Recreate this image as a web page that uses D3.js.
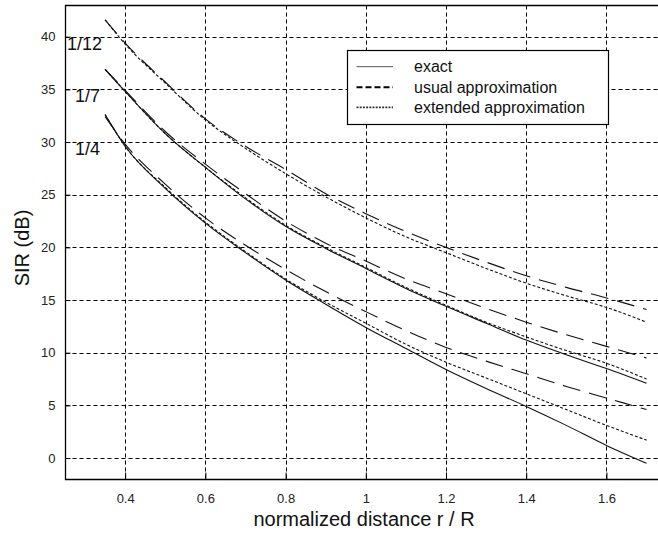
<!DOCTYPE html>
<html>
<head>
<meta charset="utf-8">
<script src="https://cdn.jsdelivr.net/npm/d3@7"></script>
<style>
  html, body { margin: 0; padding: 0; background: #fff; }
  svg { display: block; font-family: "Liberation Sans", Arial, sans-serif; }
</style>
</head>
<body>
<svg id="chart" width="658" height="534"></svg>
<script>
// ---- data ----
const distances = [0.35, 0.4, 0.5, 0.6, 0.7, 0.8, 0.9, 1.0, 1.1, 1.2, 1.3, 1.4, 1.5, 1.6, 1.7];

const exact_1_4    = [32.6, 29.6, 25.6, 22.3, 19.5, 16.9, 14.6, 12.4, 10.4, 8.4, 6.6, 4.9, 3.1, 1.2, -0.5];
const extended_1_4 = [32.6, 29.6, 25.7, 22.4, 19.6, 17.0, 14.8, 12.8, 10.8, 9.1, 7.6, 6.1, 4.6, 3.1, 1.7];
const usual_1_4    = [32.4, 29.8, 26.0, 22.8, 20.2, 17.9, 15.8, 13.9, 12.1, 10.5, 9.2, 8.0, 6.8, 5.7, 4.6];

const exact_1_7    = [36.9, 34.8, 30.8, 27.6, 24.6, 22.0, 19.9, 18.0, 16.1, 14.4, 12.8, 11.2, 9.8, 8.5, 7.1];
const extended_1_7 = [36.9, 34.8, 30.8, 27.6, 24.7, 22.1, 20.0, 18.1, 16.2, 14.5, 12.9, 11.5, 10.2, 9.0, 7.5];
const usual_1_7    = [36.9, 34.9, 31.0, 27.9, 25.1, 22.5, 20.4, 18.7, 17.0, 15.6, 14.2, 12.9, 11.7, 10.6, 9.5];

const extended_1_12 = [41.6, 39.3, 35.6, 32.1, 29.4, 27.0, 24.8, 22.8, 21.0, 19.5, 18.0, 16.6, 15.4, 14.3, 12.9];
const usual_1_12    = [41.6, 39.4, 35.7, 32.2, 29.6, 27.4, 25.1, 23.2, 21.5, 20.0, 18.6, 17.3, 16.2, 15.2, 14.1];

const xTicks = [0.4, 0.6, 0.8, 1.0, 1.2, 1.4, 1.6];
const yTicks = [0, 5, 10, 15, 20, 25, 30, 35, 40];
const xTickLabels = ["0.4", "0.6", "0.8", "1", "1.2", "1.4", "1.6"];
const yTickLabels = ["0", "5", "10", "15", "20", "25", "30", "35", "40"];

const reuseLabels = ["1/12", "1/7", "1/4"];
const reuseLabelValues = [40, 35, 30];
const legendLabels = ["exact", "usual approximation", "extended approximation"];

// ---- styles ----
const styles = {
  exact:    { dash: null,    width: 1.1 },
  usual:    { dash: "18,9",  width: 1.1 },
  extended: { dash: "3,2",   width: 1.1 }
};

const curves = [
  { kind: "usual",    values: usual_1_12 },
  { kind: "extended", values: extended_1_12 },
  { kind: "usual",    values: usual_1_7 },
  { kind: "extended", values: extended_1_7 },
  { kind: "exact",    values: exact_1_7 },
  { kind: "usual",    values: usual_1_4 },
  { kind: "extended", values: extended_1_4 },
  { kind: "exact",    values: exact_1_4 }
];

// ---- layout ----
const svg = d3.select("#chart");
const x = d3.scaleLinear().domain([0.25, 1.75]).range([65, 666.6]);
const y = d3.scaleLinear().domain([-2, 43]).range([479.1, 5.1]);
const pLeft = 65.5, pRight = 666.6, pTop = 5.5, pBottom = 479.5;

// grid
const grid = svg.append("g");
grid.selectAll("line.gx").data(xTicks).enter().append("line")
  .attr("x1", d => Math.round(x(d)) + 0.5).attr("x2", d => Math.round(x(d)) + 0.5)
  .attr("y1", pTop).attr("y2", pBottom)
  .attr("stroke", "#000").attr("stroke-width", 1).attr("stroke-dasharray", "4,3");
grid.selectAll("line.gy").data(yTicks).enter().append("line")
  .attr("y1", d => Math.round(y(d)) + 0.5).attr("y2", d => Math.round(y(d)) + 0.5)
  .attr("x1", pLeft).attr("x2", pRight)
  .attr("stroke", "#000").attr("stroke-width", 1).attr("stroke-dasharray", "4,3");

// axes (ticks inward)
const xAxis = d3.axisBottom(x).tickValues(xTicks).tickFormat((d, i) => xTickLabels[i])
  .tickSizeInner(-7).tickSizeOuter(0).tickPadding(14);
const gx = svg.append("g").attr("transform", `translate(0,${pBottom})`).call(xAxis);
gx.select(".domain").remove();
gx.selectAll("text").attr("font-size", 13).attr("fill", "#222")
  .attr("font-family", "'Liberation Sans', Arial, sans-serif");

const yAxis = d3.axisLeft(y).tickValues(yTicks).tickFormat((d, i) => yTickLabels[i])
  .tickSizeInner(-5).tickSizeOuter(0).tickPadding(10);
const gy = svg.append("g").attr("transform", `translate(${pLeft},0)`).call(yAxis);
gy.select(".domain").remove();
gy.selectAll("text").attr("font-size", 13).attr("fill", "#222")
  .attr("font-family", "'Liberation Sans', Arial, sans-serif");

// frame
svg.append("path")
  .attr("d", `M${pLeft},${pTop}H${pRight}V${pBottom}H${pLeft}Z`)
  .attr("fill", "none").attr("stroke", "#000").attr("stroke-width", 1.3);

// curves
const line = d3.line().x((d, i) => x(distances[i])).y(d => y(d)).curve(d3.curveMonotoneX);
svg.append("g").selectAll("path").data(curves).enter().append("path")
  .attr("d", d => line(d.values))
  .attr("fill", "none")
  .attr("stroke", "#111")
  .attr("stroke-width", d => styles[d.kind].width)
  .attr("stroke-dasharray", d => styles[d.kind].dash);

// reuse factor labels
svg.append("g").selectAll("text").data(reuseLabels).enter().append("text")
  .attr("x", (d, i) => i === 0 ? 67 : 75)
  .attr("y", (d, i) => y(reuseLabelValues[i]) + 13)
  .attr("font-size", 18).attr("fill", "#111")
  .text(d => d);

// legend
const lg = svg.append("g");
lg.append("rect").attr("x", 347.5).attr("y", 50.5).attr("width", 261).attr("height", 74)
  .attr("fill", "#fff").attr("stroke", "#000").attr("stroke-width", 1.2);
const legendKinds = ["exact", "usual", "extended"];
const legendStyle = {
  exact:    { dash: null,   width: 1,   color: "#555" },
  usual:    { dash: "6,3",  width: 2,   color: "#000" },
  extended: { dash: "2,1.2", width: 1.8, color: "#333" }
};
const rowY = [66.7, 87.3, 107.3];
legendKinds.forEach((k, i) => {
  lg.append("line").attr("x1", 356.5).attr("x2", 393).attr("y1", rowY[i]).attr("y2", rowY[i])
    .attr("stroke", legendStyle[k].color).attr("stroke-width", legendStyle[k].width)
    .attr("stroke-dasharray", legendStyle[k].dash);
  lg.append("text").attr("x", 414).attr("y", rowY[i]).attr("dy", "0.35em")
    .attr("font-size", 16).attr("fill", "#111").text(legendLabels[i]);
});

// axis titles
svg.append("text").attr("x", 364).attr("y", 526).attr("text-anchor", "middle")
  .attr("font-size", 20).attr("fill", "#111").text("normalized distance r / R");
svg.append("text").attr("transform", "translate(29,248) rotate(-90)")
  .attr("text-anchor", "middle").attr("font-size", 20).attr("fill", "#111").text("SIR (dB)");
</script>
</body>
</html>
